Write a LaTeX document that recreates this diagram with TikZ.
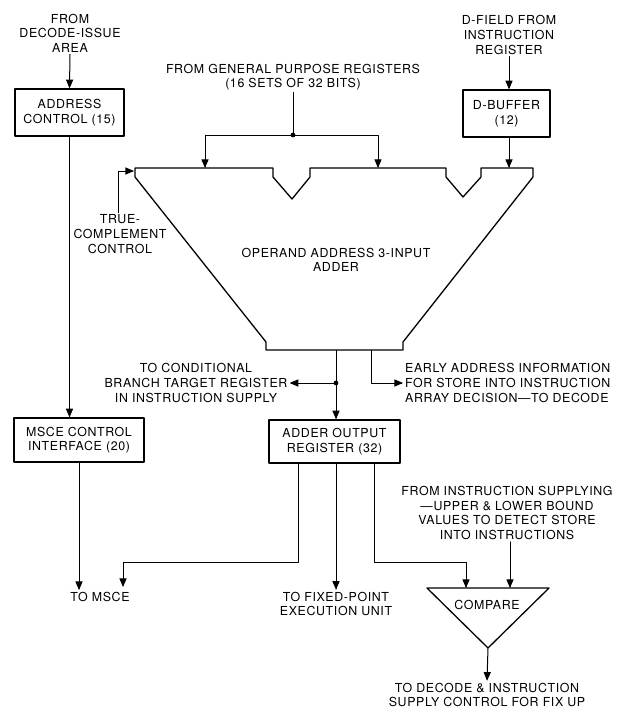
\documentclass[tikz,border=0pt]{standalone}
\usepackage{fontspec}
\setmainfont{TeX Gyre Heros}[LetterSpace=5]
\usepackage{tikz}
\usetikzlibrary{arrows}

\begin{document}
\begin{tikzpicture}[line cap=round,line join=round,>=triangle 45,x=1pt,y=-1pt,
  every node/.style={font=\fontsize{12.4}{14.6}\selectfont},
  box/.style={draw,line width=1.3pt,align=center,inner sep=0pt},
  lbl/.style={align=center,inner sep=2pt},
  wire/.style={line width=1pt}]
\useasboundingbox (0,0) rectangle (622,709);
% boxes
\node[box,minimum width=109pt,minimum height=47pt] (addr) at (69.5,112.5) {ADDRESS\\CONTROL (15)};
\node[box,minimum width=87pt,minimum height=47pt] (dbuf) at (506.5,113.5) {D-BUFFER\\(12)};
\node[box,minimum width=130pt,minimum height=44pt] (msce) at (79,440) {MSCE CONTROL\\INTERFACE (20)};
\node[box,minimum width=131pt,minimum height=43pt] (aor) at (334.5,441.5) {ADDER OUTPUT\\REGISTER (32)};
% texts
\node[lbl] (fromdec) at (70,33) {FROM\\DECODE-ISSUE\\AREA};
\node[lbl] (gpr) at (293,77) {FROM GENERAL PURPOSE REGISTERS\\(16 SETS OF 32 BITS)};
\node[lbl] (dfield) at (509,35) {D-FIELD FROM\\INSTRUCTION\\REGISTER};
\node[lbl] (truec) at (120,234) {TRUE-\\COMPLEMENT\\CONTROL};
\node[lbl] (addtxt) at (336,260) {OPERAND ADDRESS 3-INPUT\\ADDER};
\node[lbl] (branch) at (196,383) {TO CONDITIONAL\\BRANCH TARGET REGISTER\\IN INSTRUCTION SUPPLY};
\node[lbl,align=left,anchor=west] (early) at (403,383) {EARLY ADDRESS INFORMATION\\FOR STORE INTO INSTRUCTION\\ARRAY DECISION---TO DECODE};
\node[lbl] (tomsce) at (100,597) {TO MSCE};
\node[lbl] (tofxp) at (336,604) {TO FIXED-POINT\\EXECUTION UNIT};
\node[lbl] (fromis) at (507,513) {FROM INSTRUCTION SUPPLYING\\---UPPER \& LOWER BOUND\\VALUES TO DETECT STORE\\INTO INSTRUCTIONS};
\node[lbl] (cmptxt) at (487,605) {COMPARE};
\node[lbl] (todec) at (487,695) {TO DECODE \& INSTRUCTION\\SUPPLY CONTROL FOR FIX UP};
% adder
\draw[line width=1.3pt] (135,168) -- (273,168) -- (273,177) -- (292,199) -- (310,177) -- (310,168)
  -- (446,168) -- (446,177) -- (463,197) -- (481,177) -- (481,168) -- (533,168) -- (533,177)
  -- (403,342) -- (403,350) -- (266,350) -- (266,342) -- (135,177) -- cycle;
\coordinate (in1) at (205,168);
\coordinate (in2) at (378,168);
\coordinate (in3) at (509,168);
\coordinate (tl) at (134,171);
\coordinate (out) at (336,350);
\coordinate (eout) at (371,350);
% compare
\draw[line width=1.3pt] (427,588) coordinate (ctl) -- (549,588) -- (488,648) coordinate (cbot) -- cycle;
\coordinate (cin1) at (466,588);
\coordinate (cin2) at (510,588);
% joints
\coordinate (j1) at (293,135);
\coordinate (j2) at (336,383);
\fill (j1) circle (2.4pt) (j2) circle (2.4pt);
% connectors
\draw[wire,->] (fromdec.south) -- (addr.north);
\draw[wire,->] (addr.south) -- (addr.south |- msce.north);
\draw[wire] (gpr.south) -- (j1);
\draw[wire,->] (j1) -| (in1);
\draw[wire,->] (j1) -| (in2);
\draw[wire,->] (dfield.south) -- (dfield.south |- dbuf.north);
\draw[wire,->] (dbuf.south -| in3) -- (in3);
\draw[wire,->] (truec.north -| 118,0) |- (tl);
\draw[wire,->] (out) -- (out |- aor.north);
\draw[wire,->] (j2) -- (branch.east);
\draw[wire,->] (eout) |- (early.west);
\draw[wire,->] (msce.south) -- (msce.south |- tomsce.north);
\draw[wire,->] (aor.south -| 298,0) |- (123,562) -- (123,587);
\draw[wire,->] (aor.south -| tofxp) -- (tofxp.north);
\draw[wire,->] (aor.south -| 374,0) |- (466,562) -- (cin1);
\draw[wire,->] (fromis.south -| cin2) -- (cin2);
\draw[wire,->] (cbot) -- (todec.north);
\end{tikzpicture}
\end{document}
